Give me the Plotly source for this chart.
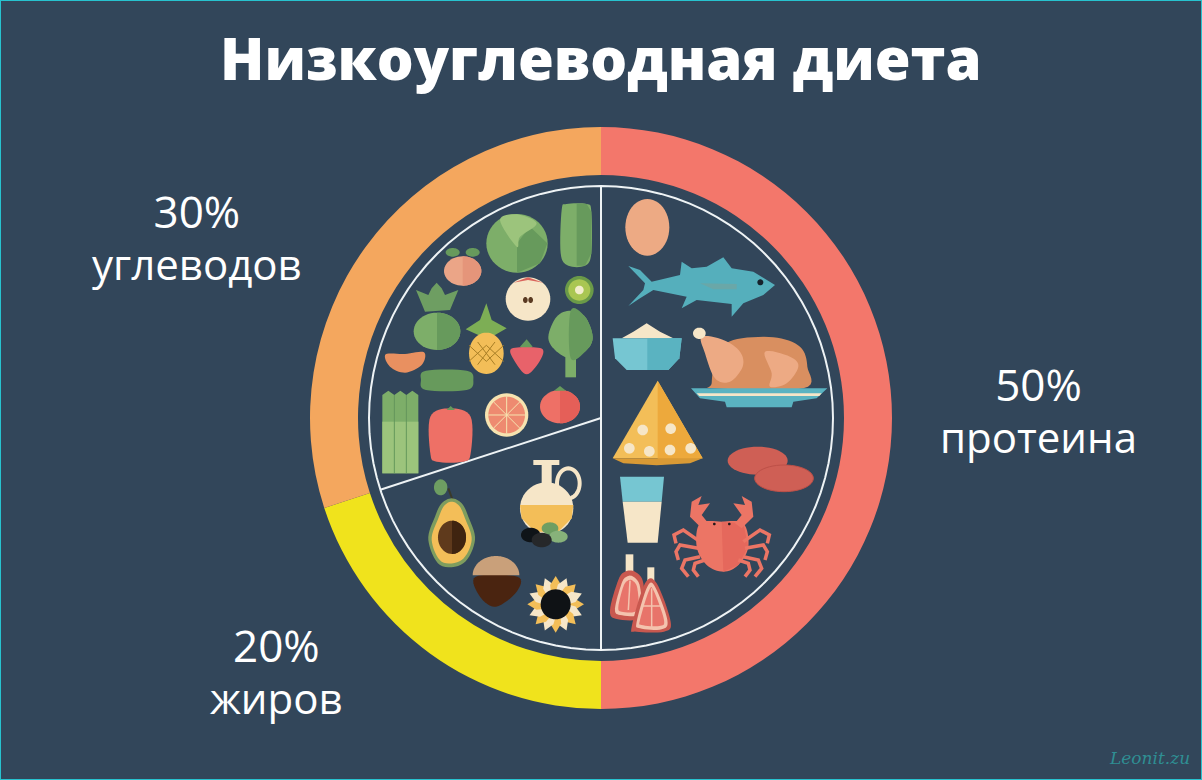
import math
import plotly.graph_objects as go

TITLE = "Низкоуглеводная диета"
categories = ["протеина", "жиров", "углеводов"]
shares = [50, 20, 30]
slice_colors = ["#F3776B", "#F0E31C", "#F4A75E"]
WATERMARK = "Leonit.zu"

W, H = 1202, 780
BG = "#32465A"
CX, CY, R_OUT, R_IN, R_PLATE = 601, 418, 291, 243, 232


def px(x, y):
    return x / W, 1 - y / H


shapes = []


def add_path(pts, col, closed=True, lw=0, lc=None):
    d = "M " + " L ".join("%.5f,%.5f" % px(*p) for p in pts) + (" Z" if closed else "")
    shapes.append(dict(type="path", xref="paper", yref="paper", path=d,
                       fillcolor=col if closed else "rgba(0,0,0,0)",
                       line=dict(width=lw, color=lc or col)))


def smooth_pts(pts, closed=True, n=8):
    out = []
    m = len(pts)
    rng = range(m) if closed else range(1, m - 2)
    for i in rng:
        p0, p1, p2, p3 = pts[(i - 1) % m], pts[i], pts[(i + 1) % m], pts[(i + 2) % m]
        for k in range(n):
            t = k / n
            f = lambda a, b, c, d: 0.5 * (2 * b + (c - a) * t + (2 * a - 5 * b + 4 * c - d) * t * t + (3 * b - a - 3 * c + d) * t ** 3)
            out.append((f(p0[0], p1[0], p2[0], p3[0]), f(p0[1], p1[1], p2[1], p3[1])))
    return out


def Z(o, pts):
    return [(o[0] + x / 3, o[1] + y / 3) for x, y in pts]


def poly(o, pts, col, smooth=False):
    q = Z(o, pts)
    add_path(smooth_pts(q) if smooth else q, col)


def line(o, pts, col, w=3, smooth=False):
    q = Z(o, pts)
    add_path(smooth_pts(q, closed=False) if smooth else q, col, closed=False, lw=w, lc=col)


def el(o, cx, cy, rx, ry, col, part=None, lw=0, lc=None):
    rng = {None: (0, 360), "r": (-90, 90), "l": (90, 270), "t": (180, 360), "b": (0, 180)}[part]
    pts = []
    for i in range(49):
        a = math.radians(rng[0] + (rng[1] - rng[0]) * i / 48)
        pts.append((o[0] + (cx + rx * math.cos(a)) / 3, o[1] + (cy + ry * math.sin(a)) / 3))
    add_path(pts, col, lw=lw, lc=lc)


def ang_pt(frac, r):
    a = 2 * math.pi * frac
    return CX + r * math.sin(a), CY - r * math.cos(a)


pl = [ang_pt(i / 96, R_PLATE) for i in range(97)]
add_path(pl, "rgba(0,0,0,0)", closed=False, lw=2, lc="#EEF3F5")
add_path([ang_pt(0, R_PLATE), ang_pt(0.5, R_PLATE)], "#EEF3F5", closed=False, lw=2, lc="#EEF3F5")
add_path([(CX, CY), ang_pt((shares[0] + shares[1]) / 100, R_PLATE)], "#EEF3F5", closed=False, lw=2, lc="#EEF3F5")

GREEN, GREEN_D, GREEN_L = "#7DAE69", "#679A5C", "#9CC47C"
CREAM, YEL, YEL_D = "#F6E6C8", "#F3BE58", "#EDA93C"
BLUE, BLUE_D = "#76C6D2", "#5AB3C1"
RED, RED_D, RED_L = "#EE7066", "#C9584F", "#E8746A"
PEACH = "#EDAA84"

# ---- carbohydrates icons
O1 = (300, 120)
el(O1, 651, 370, 92, 88, GREEN)
poly(O1, [(651, 370), (690, 320), (742, 370), (720, 430), (651, 458)], GREEN_D)
poly(O1, [(600, 300), (651, 283), (710, 310), (660, 350), (650, 380)], GREEN_L, smooth=True)
poly(O1, [(785, 270), (800, 252), (860, 252), (874, 275), (874, 400), (855, 437), (805, 437), (782, 400)], GREEN, smooth=True)
poly(O1, [(830, 252), (860, 252), (874, 275), (874, 400), (855, 437), (830, 437)], GREEN_D, smooth=False)
el(O1, 458, 397, 21, 13, GREEN_D)
el(O1, 518, 397, 21, 13, GREEN_D)
el(O1, 488, 453, 56, 44, "#EBA587")
el(O1, 488, 453, 56, 44, "#E5957A", "r")
el(O1, 684, 537, 67, 65, CREAM)
poly(O1, [(640, 488), (684, 472), (730, 488), (684, 480)], "#D9645C")
el(O1, 676, 540, 7, 9, "#5A3A22")
el(O1, 692, 540, 7, 9, "#5A3A22")
el(O1, 838, 510, 43, 42, "#6A9A48")
el(O1, 838, 510, 33, 32, "#A9C652")
el(O1, 838, 510, 13, 13, "#F2EDCC")
poly(O1, [(348, 510), (385, 525), (395, 505), (410, 488), (425, 505), (435, 525), (475, 510), (450, 570), (375, 575)], "#6E9E62")
el(O1, 411, 634, 70, 56, GREEN)
el(O1, 411, 634, 70, 56, GREEN_D, "r")
poly(O1, [(559, 550), (575, 600), (620, 625), (585, 645), (535, 645), (497, 628), (540, 600)], "#7DAE55")
el(O1, 559, 700, 52, 62, YEL)
for d, half in [(-26, 34), (0, 44), (26, 34)]:
    line(O1, [(559 + d - 26, 700 - half + 10), (559 + d + 26, 700 + half - 10)], "#A87E25", 1)
    line(O1, [(559 + d + 26, 700 - half + 10), (559 + d - 26, 700 + half - 10)], "#A87E25", 1)
poly(O1, [(680, 658), (698, 680), (680, 695), (660, 680)], GREEN_D)
poly(O1, [(632, 688), (680, 682), (728, 688), (718, 725), (680, 763), (645, 725)], "#E8626A", smooth=True)
poly(O1, [(796, 690), (828, 690), (828, 772), (796, 772)], GREEN)
poly(O1, [(745, 650), (770, 590), (812, 572), (855, 590), (878, 650), (860, 690), (812, 715), (765, 690)], GREEN, smooth=True)
poly(O1, [(812, 572), (855, 590), (878, 650), (860, 690), (812, 715)], GREEN_D, smooth=True)
poly(O1, [(257, 703), (315, 702), (372, 697), (365, 735), (315, 758), (270, 740)], "#E99060", smooth=True)
poly(O1, [(363, 780), (378, 752), (500, 752), (520, 780), (500, 810), (378, 810)], GREEN_D, smooth=True)
for sx in (247, 283, 319):
    poly(O1, [(sx, 825), (sx + 18, 812), (sx + 36, 825), (sx + 36, 1060), (sx, 1060)], GREEN)
    poly(O1, [(sx, 905), (sx + 36, 905), (sx + 36, 1060), (sx, 1060)], GREEN_L)
line(O1, [(283, 825), (283, 1060)], GREEN_D, 1)
line(O1, [(319, 825), (319, 1060)], GREEN_D, 1)
poly(O1, [(391, 890), (450, 865), (512, 890), (512, 1000), (490, 1025), (410, 1025), (391, 1000)], RED, smooth=True)
poly(O1, [(440, 870), (452, 858), (465, 870)], GREEN_D)
el(O1, 620, 885, 65, 65, "#F6E3B0")
el(O1, 620, 885, 55, 55, "#EE8A70")
for k in range(4):
    a = math.pi * k / 4
    line(O1, [(620 - 55 * math.cos(a), 885 - 55 * math.sin(a)), (620 + 55 * math.cos(a), 885 + 55 * math.sin(a))], "#F6E3B0", 1)
el(O1, 780, 860, 60, 50, RED)
el(O1, 780, 860, 60, 50, "#E55F58", "r")
poly(O1, [(762, 812), (780, 798), (798, 812)], GREEN_D)

# ---- protein icons
O2 = (590, 170)
el(O2, 172, 172, 66, 85, PEACH)
poly(O2, [(115, 288), (150, 300), (185, 335), (270, 315), (275, 275), (305, 295), (350, 290), (400, 262),
          (425, 295), (490, 305), (555, 345), (520, 375), (460, 400), (425, 440), (425, 402), (320, 390),
          (275, 415), (290, 380), (190, 360), (150, 385), (115, 408), (160, 360), (165, 340)], "#55AFBC")
poly(O2, [(330, 340), (440, 342), (440, 358), (370, 358)], "#6AA7A8")
el(O2, 511, 337, 9, 9, "#16222C")
poly(O2, [(95, 505), (130, 485), (170, 460), (210, 485), (250, 505)], CREAM, smooth=False)
poly(O2, [(68, 505), (275, 505), (268, 565), (235, 600), (110, 600), (75, 565)], BLUE)
poly(O2, [(172, 505), (275, 505), (268, 565), (235, 600), (172, 600)], BLUE_D)
poly(O2, [(365, 640), (380, 555), (430, 510), (550, 502), (630, 530), (652, 590), (640, 655), (375, 655)], "#D98F60", smooth=True)
poly(O2, [(335, 500), (400, 510), (450, 545), (458, 590), (420, 635), (375, 625), (345, 550)], PEACH, smooth=True)
poly(O2, [(525, 545), (600, 560), (625, 590), (590, 640), (540, 650), (545, 610)], PEACH, smooth=True)
el(O2, 328, 490, 19, 17, CREAM)
poly(O2, [(303, 655), (712, 655), (680, 685), (610, 695), (605, 712), (410, 712), (405, 695), (330, 685)], BLUE_D)
poly(O2, [(320, 670), (695, 670), (688, 678), (328, 678)], CREAM)

O3 = (590, 420)
poly((590, 170), [(203, 632), (338, 865), (68, 865)], YEL)
poly((590, 170), [(203, 632), (338, 865), (203, 885)], YEL_D)
for hx, hy in [(158, 30), (242, 26), (118, 85), (178, 94), (240, 90), (302, 85)]:
    el(O3, hx, hy, 16, 16, CREAM)
poly(O3, [(68, 115), (338, 115), (300, 130), (200, 136), (100, 130)], "#D99A35")
el(O3, 503, 122, 90, 42, "#CF5F55")
el(O3, 582, 175, 88, 40, "#CF5F55", lw=1, lc="#BD5048")
poly(O3, [(90, 170), (222, 170), (215, 245), (98, 245)], BLUE)
poly(O3, [(98, 245), (215, 245), (203, 368), (113, 368)], CREAM)
poly(O3, [(107, 403), (130, 403), (130, 455), (107, 455)], CREAM)
poly(O3, [(172, 442), (193, 442), (193, 495), (172, 495)], CREAM)
poly(O3, [(105, 455), (135, 455), (160, 490), (158, 590), (80, 597), (60, 570), (85, 480)], RED_D, smooth=True)
poly(O3, [(110, 470), (130, 470), (150, 500), (150, 580), (90, 585), (75, 565), (95, 490)], "#F4C3AE", smooth=True)
poly(O3, [(113, 482), (128, 482), (142, 505), (142, 570), (95, 575), (85, 560), (100, 500)], RED_L, smooth=True)
line(O3, [(120, 482), (115, 570)], "#F4C3AE", 1.5)
poly(O3, [(165, 490), (200, 490), (242, 605), (222, 635), (140, 635), (125, 620)], RED_D, smooth=True)
poly(O3, [(172, 500), (195, 500), (232, 600), (215, 628), (150, 625), (140, 605)], "#F4C3AE", smooth=True)
poly(O3, [(177, 512), (191, 512), (222, 600), (208, 618), (155, 615), (150, 600)], RED_L, smooth=True)
line(O3, [(185, 505), (185, 622)], "#F4C3AE", 1.5)
line(O3, [(158, 558), (212, 558)], "#F4C3AE", 1.5)
crab = "#EC7565"
poly(O3, [(330, 310), (395, 305), (460, 310), (475, 380), (445, 435), (400, 455), (350, 435), (320, 380)], crab, smooth=True)
poly(O3, [(395, 305), (460, 310), (475, 380), (445, 435), (400, 455)], "#E5685C", smooth=False)
for mirror in (False, True):
    mx = (lambda pts: [(790 - x, y) for x, y in pts]) if mirror else (lambda pts: pts)
    poly(O3, mx([(335, 325), (300, 290), (305, 245), (335, 228), (325, 255), (360, 250), (335, 285), (355, 310)]), crab)
    line(O3, mx([(330, 365), (280, 330), (252, 345), (258, 370)]), crab, 3.5)
    line(O3, mx([(325, 385), (270, 375), (258, 395), (265, 420)]), crab, 3.5)
    line(O3, mx([(330, 410), (285, 420), (275, 445), (295, 470)]), crab, 3.5)
    line(O3, mx([(345, 420), (315, 430), (310, 450), (325, 470)]), crab, 3.5)
el(O3, 373, 312, 4, 4, "#22181A")
el(O3, 418, 312, 4, 4, "#22181A")

# ---- fat icons
O4 = (320, 420)
el(O4, 362, 202, 20, 24, "#6E9E62")
line(O4, [(385, 205), (398, 240)], "#3A3A2A", 2)
poly(O4, [(395, 235), (425, 250), (445, 290), (465, 360), (430, 430), (360, 435), (325, 360), (345, 290), (365, 250)], "#7E9D5E", smooth=True)
poly(O4, [(395, 245), (418, 258), (435, 295), (455, 360), (425, 420), (365, 425), (335, 360), (355, 295), (372, 258)], YEL, smooth=True)
el(O4, 396, 352, 42, 50, "#5F3A1C")
el(O4, 396, 352, 42, 50, "#3F2410", "r")
poly(O4, [(665, 130), (695, 130), (695, 200), (665, 200)], CREAM)
poly(O4, [(640, 120), (718, 120), (718, 135), (640, 135)], CREAM)
el(O4, 745, 190, 34, 45, "rgba(0,0,0,0)", lw=4, lc=CREAM)
el(O4, 680, 265, 80, 78, CREAM)
poly(O4, [(600, 255), (760, 255), (755, 295), (715, 335), (645, 335), (605, 295)], YEL)
el(O4, 690, 325, 25, 18, "#6E9E62")
el(O4, 715, 350, 28, 18, "#87B27A")
el(O4, 632, 345, 29, 22, "#0F1418")
el(O4, 665, 360, 30, 22, "#26282A")
poly(O4, [(467, 470), (592, 470), (590, 515), (528, 560), (480, 530)], "#4A2410", smooth=True)
el(O4, 528, 466, 70, 58, "#C9A07A", "t")
sfx, sfy = 707, 553
for k in range(16):
    a = 2 * math.pi * k / 16
    col = YEL if k % 2 == 0 else CREAM
    pts = []
    for r_, da in [(85, 0), (60, 0.28), (38, 0.38), (38, -0.38), (60, -0.28)]:
        pts.append((sfx + r_ * math.cos(a + da), sfy + r_ * math.sin(a + da)))
    poly(O4, pts, col)
el(O4, sfx, sfy, 45, 45, "#0F1215")

# frame
shapes.append(dict(type="rect", xref="paper", yref="paper", x0=0, y0=0, x1=1, y1=1,
                   line=dict(color="#27C3CF", width=2), fillcolor="rgba(0,0,0,0)"))

fig = go.Figure(go.Pie(
    values=shares, labels=categories, sort=False, direction="clockwise", rotation=0,
    hole=R_IN / R_OUT, marker=dict(colors=slice_colors, line=dict(width=0)),
    textinfo="none", hoverinfo="label+percent", showlegend=False,
    domain=dict(x=[(CX - R_OUT) / W, (CX + R_OUT) / W], y=[1 - (CY + R_OUT) / H, 1 - (CY - R_OUT) / H]),
))

label_pos = {"протеина": (1038, 409, 44, 42), "жиров": (276, 670, 44, 42), "углеводов": (197, 236, 44, 42)}
FONT = "Open Sans"
annotations = []


def txt(s, x, y, size, weight=400, color="white", family=FONT):
    xx, yy = px(x, y)
    annotations.append(dict(text=s, x=xx, y=yy, xref="paper", yref="paper",
                            xanchor="center", yanchor="middle", showarrow=False, align="center",
                            font=dict(size=size, color=color, family=family, weight=weight)))


txt(TITLE, 601, 58, 58, weight=800)
for name, val in zip(categories, shares):
    x, ym, fd, fs = label_pos[name]
    # one two-line text; base size 40 gives the 52 px line step of the reference
    txt('<span style="font-size:%dpx">%d%%</span><br><span style="font-size:%dpx">%s</span>' % (fd, val, fs, name), x, ym, 40)
txt("<i>%s</i>" % WATERMARK, 1149, 758, 17, color="#2F8E93", family="DejaVu Serif")

fig.update_layout(width=W, height=H, margin=dict(l=0, r=0, t=0, b=0), paper_bgcolor=BG, plot_bgcolor=BG,
                  shapes=shapes, annotations=annotations)
fig.write_html("out.html", post_script="document.body.style.margin='0';document.body.style.overflow='hidden';",
               config={"displayModeBar": False})
